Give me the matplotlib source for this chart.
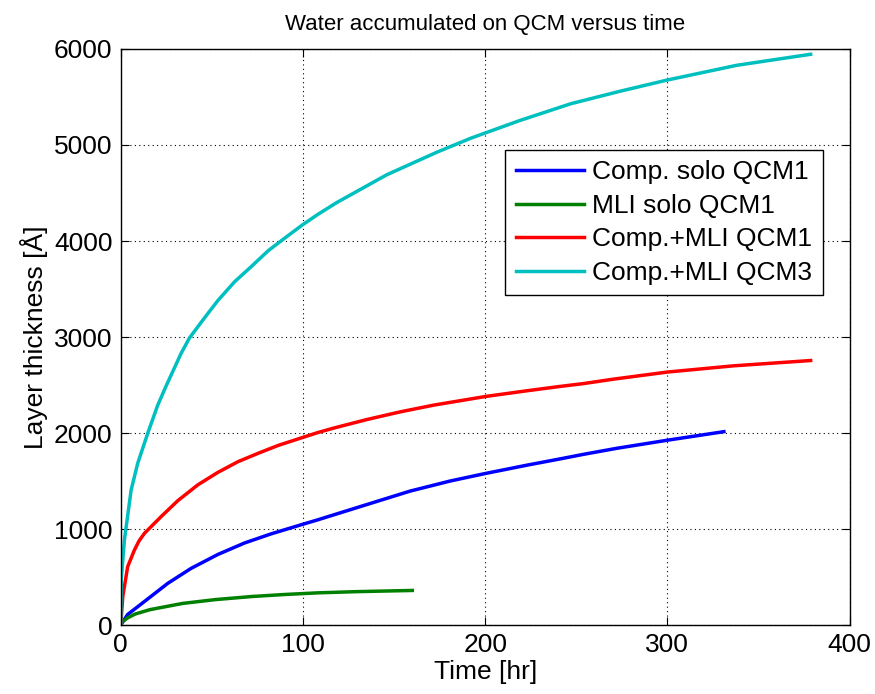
import numpy as np
import matplotlib.pyplot as plt

plt.rcParams['font.family'] = ['Liberation Sans', 'DejaVu Sans']

# Data (time in hr, thickness in Angstrom)
t_comp_solo = [0, 3.8, 13, 25.8, 38.6, 53.3, 68, 82.6, 100, 108, 130, 158.8, 180.8, 200,
               222.9, 241, 254, 272, 300, 331]
y_comp_solo = [0, 110, 245, 434, 590, 735, 855, 950, 1050, 1095, 1225, 1395, 1500, 1578,
               1665, 1730, 1778, 1840, 1925, 2014]

t_mli_solo = [0, 1, 3.8, 8, 16, 34, 52, 72, 90, 108, 130, 160]
y_mli_solo = [0, 35, 75, 115, 160, 225, 265, 297, 318, 335, 348, 360]

t_comp_mli1 = [0, 1.1, 3.8, 7.5, 10, 13, 22.1, 31.3, 42.3, 53.3, 64.3, 75.3, 86.3, 98.4, 108.2,
               116.6, 135, 153.3, 171.6, 200, 222.9, 241, 254, 270, 300, 336.4, 378.6]
y_comp_mli1 = [0, 295, 608, 781, 875, 955, 1128, 1295, 1460, 1590, 1701, 1788, 1870, 1945, 2005,
               2050, 2140, 2220, 2290, 2380, 2440, 2485, 2515, 2560, 2635, 2700, 2755]

t_comp_mli3 = [0, 0.3, 1, 2, 5.7, 9.3, 14.8, 20.3, 24.9, 29.5, 33, 37.7, 46, 53.3, 62.5, 71.6, 81,
               90, 99.5, 108, 118.5, 146, 173.5, 192, 200, 219, 247, 274, 300, 338, 378.6]
y_comp_mli3 = [0, 480, 650, 885, 1406, 1684, 1997, 2290, 2490, 2680, 2825, 2990, 3200, 3380, 3576, 3733, 3900,
               4030, 4165, 4275, 4400, 4690, 4925, 5070, 5125, 5255, 5430, 5560, 5677, 5830, 5945]

labels = ['Comp. solo QCM1', 'MLI solo QCM1', 'Comp.+MLI QCM1', 'Comp.+MLI QCM3']
colors = ['#0000ff', '#008000', '#ff0000', '#00bfbf']

fig = plt.figure(figsize=(8.75, 6.94), dpi=100)
ax = fig.add_axes([0.138, 0.0994, 0.833, 0.8300])

series = [(t_comp_solo, y_comp_solo), (t_mli_solo, y_mli_solo),
          (t_comp_mli1, y_comp_mli1), (t_comp_mli3, y_comp_mli3)]
for (t, y), lab, c in zip(series, labels, colors):
    ax.plot(t, y, color=c, lw=2.5, label=lab, solid_joinstyle='round')

ax.set_xlim(0, 400)
ax.set_ylim(0, 6000)
ax.set_xticks([0, 100, 200, 300, 400])
ax.set_yticks([0, 1000, 2000, 3000, 4000, 5000, 6000])
ax.grid(True, color='black', linestyle=(0, (1, 3)), linewidth=0.8)
ax.tick_params(direction='in', top=True, right=True, labelsize=19, length=6, pad=6)
for s in ax.spines.values():
    s.set_linewidth(1.0)

ax.set_title('Water accumulated on QCM versus time', fontsize=16, pad=14)
ax.set_xlabel('Time [hr]', fontsize=19, labelpad=2)
ax.set_ylabel('Layer thickness [Å]', fontsize=19, labelpad=4)

leg = ax.legend(loc='upper right', bbox_to_anchor=(0.963, 0.825), fontsize=19,
                handlelength=2.6, handletextpad=0.3, labelspacing=0.36, borderpad=0.4,
                borderaxespad=0, fancybox=False, framealpha=1, edgecolor='black')
leg.get_frame().set_linewidth(1.0)

fig.savefig('out.png', dpi=100)
